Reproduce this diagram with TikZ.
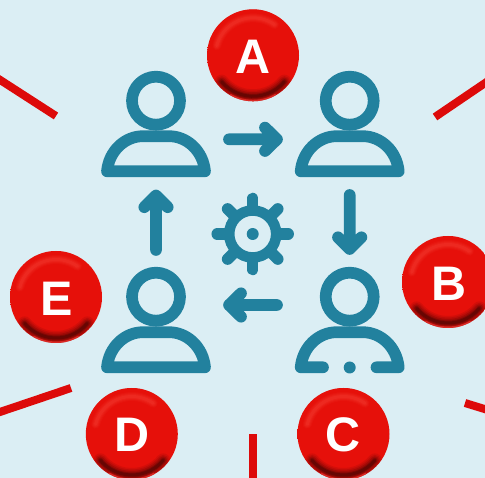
\documentclass[tikz,border=0pt]{standalone}
\usepackage{fontspec}
\setmainfont{Liberation Sans}
\definecolor{bgc}{HTML}{DBEEF4}
\definecolor{teal1}{HTML}{22819E}
\definecolor{redline}{HTML}{DD0A0A}
\definecolor{ballred}{HTML}{E6100A}
\definecolor{ballhi}{HTML}{FF5A50}
\pgfdeclareradialshading{ballshade}{\pgfpoint{0bp}{0bp}}{
 color(0bp)=(ballred); color(39bp)=(ballred); color(44bp)=(ballred!80!black);
 color(47.5bp)=(ballred!42!black); color(50bp)=(ballred!15!black); color(100bp)=(black)}
\tikzset{
 iconline/.style={draw=teal1,line width=11.7pt,line cap=round,line join=round},
 redbar/.style={draw=redline,line width=8pt},
 letter/.style={text=white,inner sep=0pt,font=\fontsize{48.5}{50}\selectfont\bfseries,text height=34.7pt,text depth=0pt}
}
\newcommand{\personat}[2]{%
 \draw[iconline] (#1,#2) circle (24);
 \draw[iconline] (#1-49,#2+70.6) .. controls (#1-47,#2+50) and (#1-31,#2+35.5) .. (#1-13,#2+35.5)
   -- (#1+13,#2+35.5) .. controls (#1+31,#2+35.5) and (#1+47,#2+50) .. (#1+49,#2+70.6) -- cycle;
}
\newcommand{\ballat}[4]{%
 \shade[shading=ballshade] (#1,#2) circle (46);
 \begin{scope}
 \clip (#1,#2) circle (46);
 % red top rim over the dark edge
 \foreach \w/\o in {8/.35,5/.4,3/.4}{
  \draw[draw=ballred,line width=\w pt,opacity=\o,line cap=round]
    ([shift={(200:43)}]#1,#2) arc[start angle=200,end angle=320,radius=43];}
 % top highlight (angles run clockwise on screen: y axis is flipped)
 \foreach \w/\o in {9/.07,7/.09,5/.11,3/.14}{
  \draw[draw=ballhi,line width=\w pt,opacity=\o,line cap=round]
    ([shift={(195:37.5)}]#1,#2) arc[start angle=195,end angle=305,radius=37.5];}
 % bottom shadow
 \foreach \w/\o in {14/.08,11/.1,8/.14,5/.18,3/.22}{
  \draw[draw=black,line width=\w pt,opacity=\o,line cap=round]
    ([shift={(40:41)}]#1,#2) arc[start angle=40,end angle=140,radius=41];}
 \draw[draw=ballred!85!white,line width=2pt,opacity=.7]
    ([shift={(60:45.5)}]#1,#2) arc[start angle=60,end angle=120,radius=45.5];
 \end{scope}
 \node[letter] (ball#3) at (#4) {#3};
}
\begin{document}
\begin{tikzpicture}[x=1pt,y=-1pt]
\useasboundingbox (0,0) rectangle (485,478);
\fill[bgc] (0,0) rectangle (485,478);
\clip (0,0) rectangle (485,478);
% red bars
\coordinate (barAa) at (-6,76); \coordinate (barAb) at (56,116);
\coordinate (barBa) at (491,79); \coordinate (barBb) at (435,117);
\coordinate (barCa) at (-6,414); \coordinate (barCb) at (71,388);
\coordinate (barDa) at (253,484); \coordinate (barDb) at (253,434);
\coordinate (barEa) at (491,411); \coordinate (barEb) at (465,403);
\foreach \p in {A,B,C,D,E}{\draw[redbar] (bar\p a) -- (bar\p b);}
% people
\personat{156}{100.7}
\personat{349.7}{100.7}
\personat{156}{296.7}
\draw[iconline] (349.7,296.7) circle (24);
\draw[iconline] (323,367.3) -- (300.7,367.3) .. controls (302.7,346.7) and (318.7,332.2) .. (336.7,332.2)
  -- (362.7,332.2) .. controls (380.7,332.2) and (396.7,346.7) .. (398.7,367.3) -- (376.5,367.3);
\fill[teal1] (349.7,367.5) circle (6);
% arrows
\draw[iconline] (229,139.3) -- (277,139.3) (265,127.6) -- (277,139.3) -- (265,151);
\draw[iconline] (349.7,195) -- (349.7,249) (338,237.3) -- (349.7,249) -- (361.4,237.3);
\draw[iconline] (277,305) -- (229,305) (241,293.3) -- (229,305) -- (241,316.7);
\draw[iconline] (156,250) -- (156,195.5) (144.3,207.2) -- (156,195.5) -- (167.7,207.2);
% gear
\draw[draw=teal1,line width=10.5pt] (252.7,234) circle (23.5);
\fill[teal1] (252.7,234) circle (6);
\foreach \a in {0,45,...,315}{
 \draw[draw=teal1,line width=11.5pt,line cap=round] ([shift={(\a:26)}]252.7,234) -- ([shift={(\a:35.5)}]252.7,234);}
% balls
\ballat{253}{55.3}{A}{253,56.5}
\ballat{448}{282}{B}{449.5,283}
\ballat{343.5}{434}{C}{343.5,434.5}
\ballat{131.8}{434}{D}{132,434.5}
\ballat{56}{297}{E}{56.5,298}
\end{tikzpicture}
\end{document}
